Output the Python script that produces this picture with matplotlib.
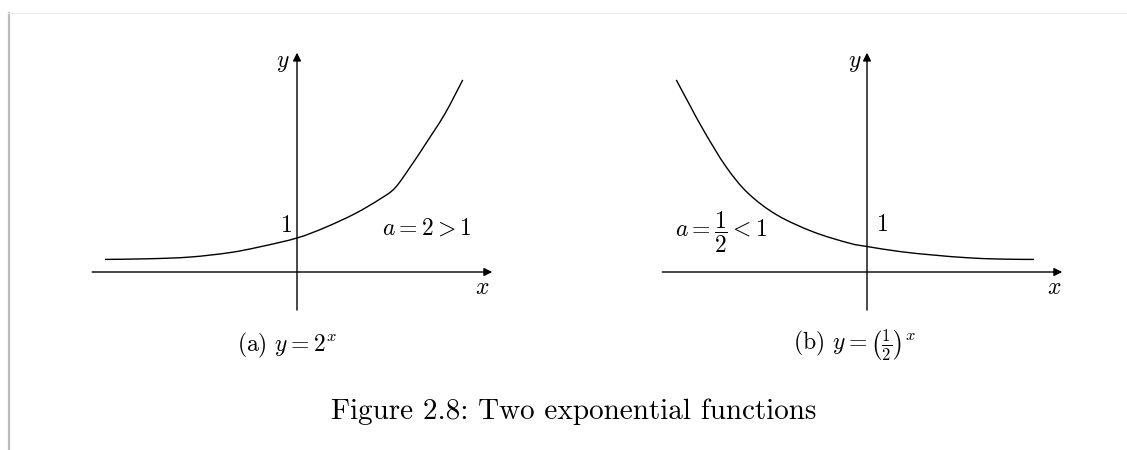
import matplotlib
matplotlib.use('Agg')
import matplotlib.pyplot as plt
from matplotlib.lines import Line2D
from matplotlib.path import Path
from matplotlib.patches import PathPatch

plt.rcParams['mathtext.fontset'] = 'cm'
plt.rcParams['font.family'] = 'serif'
plt.rcParams['font.serif'] = ['cmr10', 'DejaVu Serif']

# curve samples, a = 2
x_grow = [-3.00, -2.30, -1.67, -1.05, -0.58, 0.00, 0.44, 0.91, 1.30, 1.53, 1.77, 2.00, 2.31, 2.59]
y_grow = [0.37, 0.39, 0.44, 0.57, 0.74, 1.00, 1.31, 1.72, 2.15, 2.47, 3.09, 3.74, 4.65, 5.65]

# curve samples, a = 1/2
x_decay = [-2.98, -2.77, -2.53, -2.20, -1.86, -1.41, -0.84, -0.28, 0.00, 0.52, 1.03, 1.56, 2.08, 2.61]
y_decay = [5.65, 4.91, 4.09, 3.09, 2.32, 1.68, 1.18, 0.85, 0.75, 0.60, 0.50, 0.42, 0.38, 0.37]

subcaptions = [r'(a) $y = 2^x$', r'(b) $y = \left(\frac{1}{2}\right)^x$']
caption = 'Figure 2.8: Two exponential functions'

W, H = 1127, 450
XU, YU = 64.0, 34.0          # pixels per unit
XLIM, YLIM = (-3.5, 3.5), (-1.5, 7.0)
FS = 17


def smooth_path(ax, xs, ys):
    # bezier through the samples, like tikz "smooth"
    pts = list(zip(xs, ys))
    verts = [pts[0]]
    codes = [Path.MOVETO]
    t = 0.5 / 3
    for i in range(len(pts) - 1):
        p0 = pts[i - 1] if i > 0 else pts[i]
        p1, p2 = pts[i], pts[i + 1]
        p3 = pts[i + 2] if i + 2 < len(pts) else pts[i + 1]
        c1 = (p1[0] + t * (p2[0] - p0[0]), p1[1] + t * (p2[1] - p0[1]))
        c2 = (p2[0] - t * (p3[0] - p1[0]), p2[1] - t * (p3[1] - p1[1]))
        verts += [c1, c2, p2]
        codes += [Path.CURVE4] * 3
    ax.add_patch(PathPatch(Path(verts, codes), fill=False, lw=1.0, edgecolor='black'))


def make_axes(fig, ox, oy):
    left = ox + XLIM[0] * XU
    bottom = (H - oy) + YLIM[0] * YU
    ax = fig.add_axes([left / W, bottom / H,
                       (XLIM[1] - XLIM[0]) * XU / W,
                       (YLIM[1] - YLIM[0]) * YU / H])
    ax.set_xlim(*XLIM)
    ax.set_ylim(*YLIM)
    ax.axis('off')
    arrow = dict(arrowstyle='-|>', color='black', lw=1.0,
                 mutation_scale=12, shrinkA=0, shrinkB=0)
    ax.annotate('', xy=(3.05, 0), xytext=(-3.2, 0), arrowprops=arrow)
    ax.annotate('', xy=(0, 6.45), xytext=(0, -1.12), arrowprops=arrow)
    return ax


fig = plt.figure(figsize=(W / 100, H / 100), dpi=100)

ax1 = make_axes(fig, 297, 272)
smooth_path(ax1, x_grow, y_grow)
ax1.text(-0.22, 6.15, '$y$', fontsize=FS, ha='center', va='center')
ax1.text(2.9, -0.47, '$x$', fontsize=FS, ha='center', va='center')
ax1.text(-0.17, 1.35, '$1$', fontsize=FS, ha='center', va='center')
ax1.text(2.02, 1.29, r'$a = 2 > 1$', fontsize=FS, ha='center', va='center')

ax2 = make_axes(fig, 867, 272)
smooth_path(ax2, x_decay, y_decay)
ax2.text(-0.19, 6.15, '$y$', fontsize=FS, ha='center', va='center')
ax2.text(2.92, -0.47, '$x$', fontsize=FS, ha='center', va='center')
ax2.text(0.23, 1.38, '$1$', fontsize=FS, ha='center', va='center')
ax2.text(-2.28, 1.18, r'$a = \dfrac{1}{2} < 1$', fontsize=FS, ha='center', va='center')

fig.text(287 / W, 1 - 345 / H, subcaptions[0], fontsize=FS, ha='center', va='center')
fig.text(854 / W, 1 - 345 / H, subcaptions[1], fontsize=FS, ha='center', va='center')
fig.text(574 / W, 1 - 412 / H, caption, fontsize=21, ha='center', va='center')

# page margin rules
fig.add_artist(Line2D([9 / W, 9 / W], [0, 1 - 12.5 / H], color='#bbbbbb', lw=1.6))
fig.add_artist(Line2D([8 / W, 1], [1 - 12.5 / H, 1 - 12.5 / H], color='#ececec', lw=0.8))

fig.savefig('out.png', dpi=100)
